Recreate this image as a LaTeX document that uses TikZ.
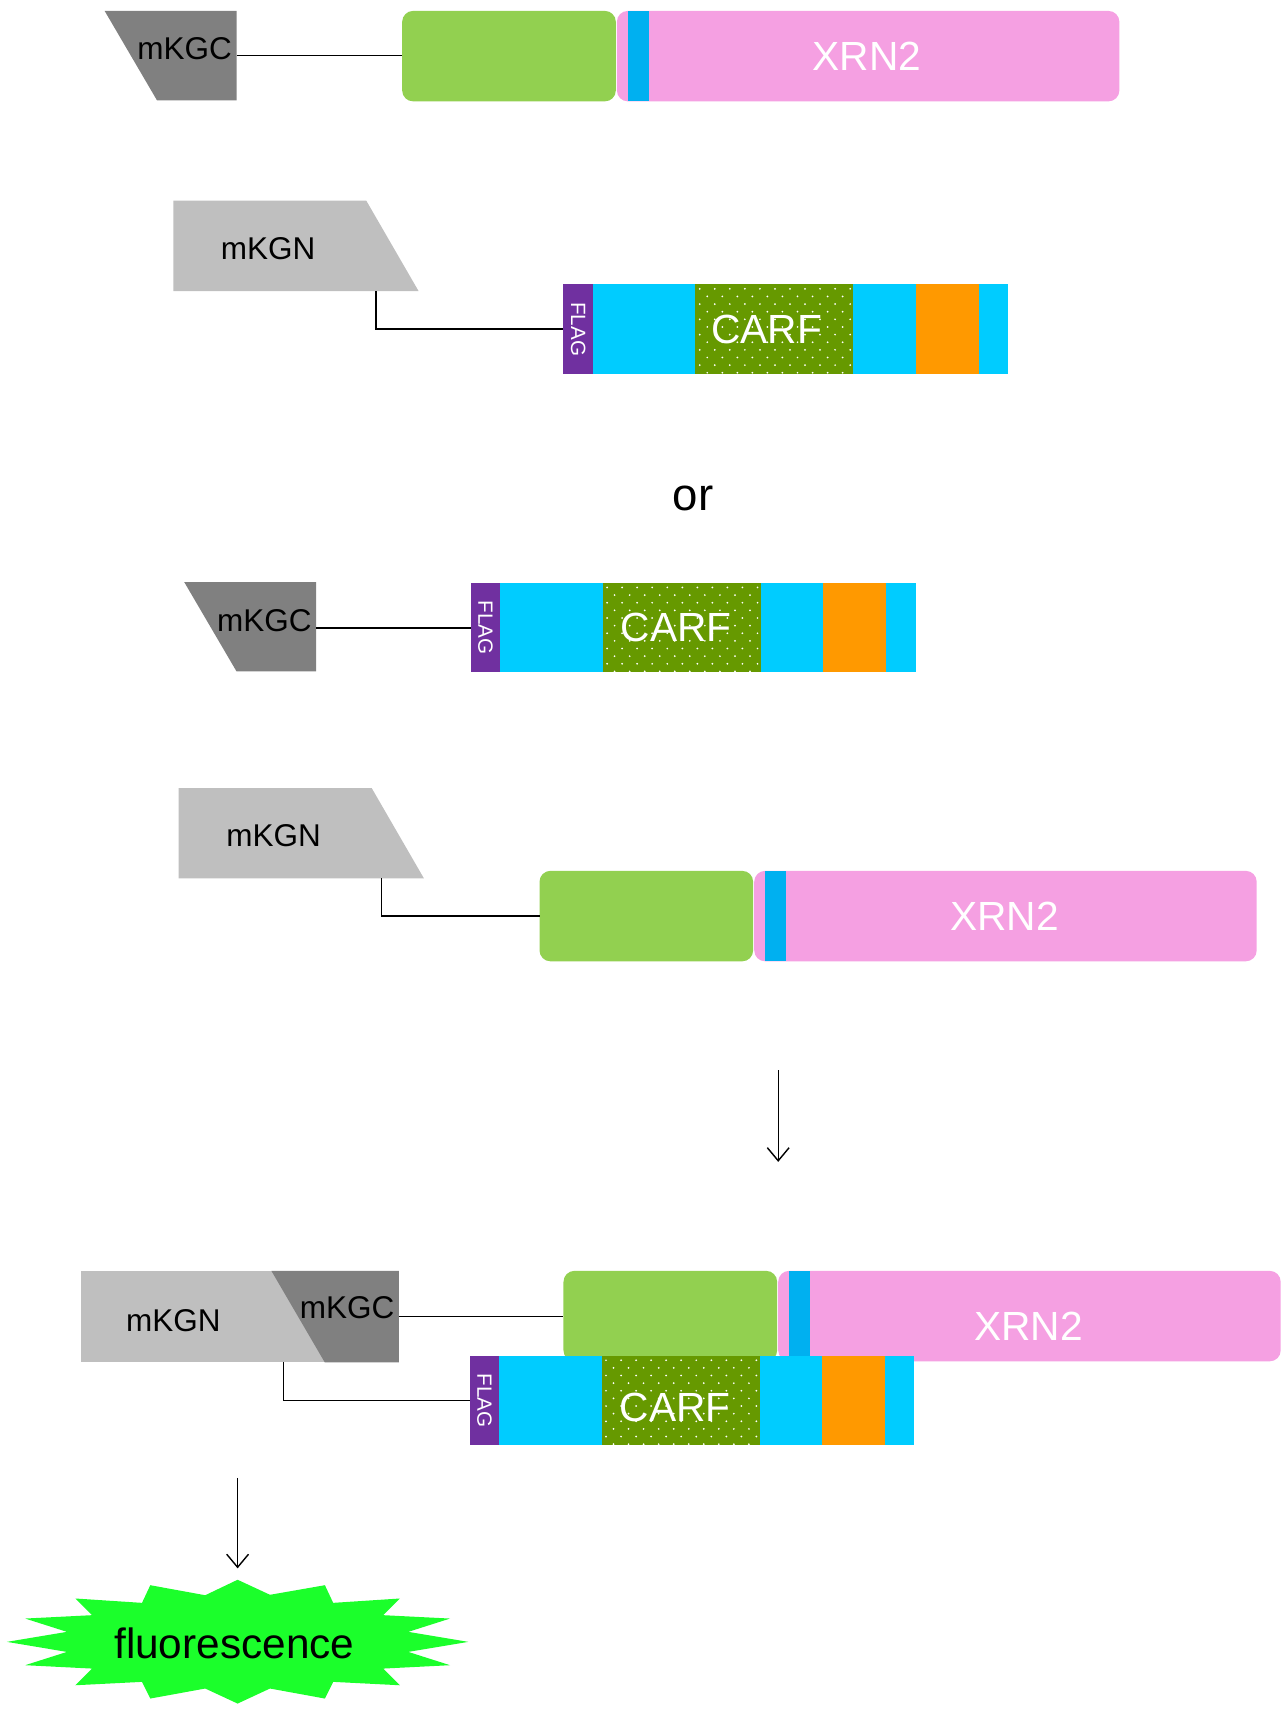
\documentclass[tikz,border=0pt]{standalone}
\usepackage{fontspec}
\setmainfont{Liberation Sans}
\usetikzlibrary{arrows.meta,calc}

\definecolor{kgcgray}{HTML}{808080}
\definecolor{kgngray}{HTML}{BFBFBF}
\definecolor{xgreen}{HTML}{92D050}
\definecolor{xpink}{HTML}{F5A0E2}
\definecolor{xblue}{HTML}{00B0F0}
\definecolor{tagcyan}{HTML}{00CCFF}
\definecolor{tagorange}{HTML}{FF9900}
\definecolor{flagpurple}{HTML}{7030A0}
\definecolor{carfgreen}{HTML}{669900}
\definecolor{glow}{HTML}{1BFF2B}

\newcommand\labfont{\fontsize{29}{29}\selectfont}
\newcommand\bigfont{\fontsize{37.5}{37.5}\selectfont}
\newcommand\flagfont{\fontsize{19}{19}\selectfont}

\tikzset{
  seg/.style={rectangle, inner sep=0pt, outer sep=0pt, anchor=north west, minimum height=82bp},
  frame/.style={rectangle, inner sep=0pt, outer sep=0pt, draw=none},
  link/.style={draw=black, line width=1.3bp},
  arr/.style={link, -{Straight Barb[length=12bp,width=20bp]}},
  lab/.style={font=\labfont, text=black, inner sep=0pt},
  wlab/.style={font=\bigfont, text=white, inner sep=0pt}
}

% FLAG-tagged CARF construct: prefix, left x, top y, label shift (x,y)
\newcommand{\carfbar}[4]{%
  \node[seg, fill=flagpurple, minimum width=27bp] (#1flag) at (#2,#3) {};
  \node[font=\flagfont, text=white, rotate=-90, inner sep=0pt] (#1flagtxt) at (#1flag.center) {FLAG};
  \node[seg, fill=tagcyan, minimum width=94bp] (#1ca) at (#1flag.north east) {};
  \node[seg, fill=carfgreen, minimum width=145bp] (#1carf) at (#1ca.north east) {};
  \begin{scope}
    \clip (#1carf.north west) rectangle (#1carf.south east);
    \foreach \r in {0,...,11}{
      \foreach \c in {0,...,11}{
        \fill[white] ({#2+27+94+4+\c*13.8+mod(\r,2)*6.9},{#3+4+\r*7}) circle (0.9);
      }
    }
  \end{scope}
  \node[wlab] (#1carftxt) at ($(#1carf.center)+(#4)$) {CARF};
  \node[seg, fill=tagcyan, minimum width=57bp] (#1cb) at (#1carf.north east) {};
  \node[seg, fill=tagorange, minimum width=58bp] (#1or) at (#1cb.north east) {};
  \node[seg, fill=tagcyan, minimum width=27bp] (#1cc) at (#1or.north east) {};
}

% XRN2 fusion construct: prefix, left x, top y, label drop
\newcommand{\fusionbar}[4]{%
  \node[seg, fill=xgreen, rounded corners=10bp, minimum width=196bp, minimum height=83bp] (#1g) at (#2,#3) {};
  \node[seg, fill=xpink, rounded corners=10bp, minimum width=461bp, minimum height=83bp] (#1p) at ({#2+197},#3) {};
  \node[seg, fill=xblue, minimum width=19bp, minimum height=83bp] (#1b) at ({#2+207},#3) {};
  \node[wlab] (#1t) at ($(#1p.center)+(-1,#4)$) {XRN2};
}

% C-terminal fragment: name, right x, top y
\newcommand{\kgcpart}[3]{%
  \node[frame, anchor=north east, minimum width=121bp, minimum height=82bp] (#1) at (#2,#3) {};
  \fill[kgcgray] (#1.north west) -- (#1.north east) -- (#1.south east) -- ($(#1.south east)+(-73,0)$) -- cycle;
  \node[lab, anchor=east] (#1txt) at ({#2-4},{#3+35}) {mKGC};
}

% N-terminal fragment: name, left x, top y
\newcommand{\kgnpart}[3]{%
  \node[frame, anchor=north west, minimum width=225bp, minimum height=83bp] (#1) at (#2,#3) {};
  \fill[kgngray] (#1.north west) -- ($(#1.north west)+(177,0)$) -- (#1.south east) -- (#1.south west) -- cycle;
  \node[lab] (#1txt) at ({#2+87},{#3+44}) {mKGN};
}

\begin{document}
\begin{tikzpicture}[x=1bp, y=-1bp]
  \useasboundingbox (0,0) rectangle (1181,1568);

  % mKGC fused to XRN2
  \kgcpart{c1}{217}{10}
  \fusionbar{f1}{369}{10}{0}
  \draw[link] (c1.east) -- (c1.east -| f1g.west);

  % mKGN fused to FLAG-CARF
  \kgnpart{n1}{159}{184}
  \carfbar{b1}{517}{261}{-7,0}
  \draw[link] ($(n1.south west)+(186,0)$) |- (b1flag.west);

  \node[font=\fontsize{42}{42}\selectfont, inner sep=0pt] (or) at (636,457) {or};

  % mKGC fused to FLAG-CARF
  \kgcpart{c2}{290}{534}
  \carfbar{b2}{432}{535}{-5,0}
  \draw[link] (b2flag.west -| c2.east) -- (b2flag.west);

  % mKGN fused to XRN2
  \kgnpart{n2}{164}{723}
  \fusionbar{f2}{495}{799}{0}
  \draw[link] ($(n2.south west)+(186,0)$) |- (f2g.west);

  \coordinate (a1s) at (714,982);
  \coordinate (a1e) at (714,1066);
  \draw[arr] (a1s) -- (a1e);

  % interaction brings the two halves together
  \node[frame, anchor=north west, fill=kgngray, minimum width=292bp, minimum height=84bp] (m5) at (74,1166) {};
  \fill[kgcgray] (249,1166) -- (m5.north east) -- (m5.south east) -- (298,1250) -- cycle;
  \node[lab] (m5n) at (159,1212) {mKGN};
  \node[lab, anchor=east] (m5c) at (362,1200) {mKGC};
  \fusionbar{f3}{517}{1166}{9}
  \carfbar{b3}{431}{1244}{-5,6}
  \draw[link] (m5.east) -- (m5.east -| f3g.west);
  \draw[link] ($(m5.south west)+(186,0)$) |- (b3flag.west);

  \coordinate (a2s) at (218,1356);
  \coordinate (a2e) at (218,1439);
  \draw[arr] (a2s) -- (a2e);

  % fluorescence burst
  \fill[glow] (218,1506)
    ++(0,-56.6) -- ++(29.7,13.8) -- (298.1,1454.4) -- (305.7,1470.6) -- (366.9,1466.6)
    -- (351.6,1481.9) -- (412.9,1485.0) -- (374.6,1497.2) -- (429.7,1506.4)
    -- (374.6,1515.6) -- (412.9,1527.8) -- (351.6,1530.9) -- (366.9,1546.2)
    -- (305.7,1543.1) -- (298.1,1558.4) -- (247.7,1549.2) -- (218,1563)
    -- (188.3,1549.2) -- (137.9,1558.4) -- (130.3,1543.1) -- (69.1,1546.2)
    -- (84.4,1530.9) -- (23.1,1527.8) -- (61.4,1515.6) -- (6.3,1506.4)
    -- (61.4,1497.2) -- (23.1,1485.0) -- (84.4,1481.9) -- (69.1,1466.6)
    -- (130.3,1470.6) -- (137.9,1454.4) -- (188.3,1463.6) -- cycle;
  \node[font=\fontsize{39}{39}\selectfont, inner sep=0pt] (fl) at (215,1508) {fluorescence};
\end{tikzpicture}
\end{document}
